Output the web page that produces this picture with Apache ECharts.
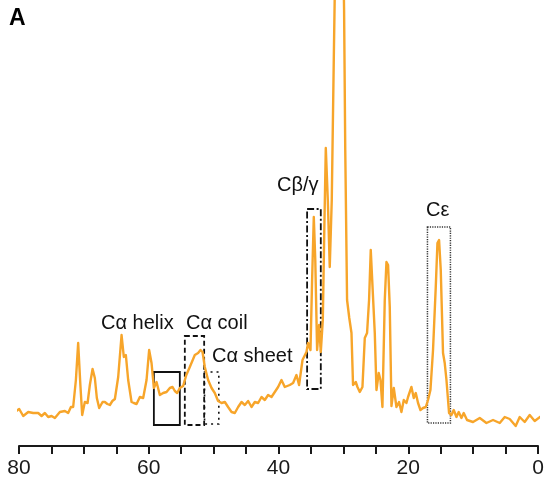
<!DOCTYPE html>
<html>
<head>
<meta charset="utf-8">
<script src="https://cdn.jsdelivr.net/npm/echarts@6/dist/echarts.min.js"></script>
<style>
html,body{margin:0;padding:0;background:#fff;}
#chart{width:548px;height:487px;}
</style>
</head>
<body>
<div id="chart"></div>
<script>
// Chemical shift (ppm) and intensity (a.u.)
const shiftPpm = [80.63,79.97,79.35,78.58,77.81,77.04,76.52,76.01,75.50,74.98,74.47,73.70,72.93,72.42,72.00,71.65,71.23,70.88,70.54,70.26,69.85,69.43,69.08,68.66,68.31,68.00,67.64,67.12,66.76,66.38,65.99,65.61,65.22,64.71,64.19,63.84,63.53,63.17,62.65,62.30,61.88,61.37,60.86,60.34,59.94,59.57,59.21,58.80,58.29,57.78,57.26,56.75,56.33,55.98,55.62,55.21,54.70,54.21,53.67,52.90,52.39,52.02,51.71,51.36,50.85,50.32,49.82,49.31,48.78,48.27,47.77,47.24,46.73,46.22,45.70,45.19,44.68,44.16,43.65,43.14,42.62,42.11,41.60,41.08,40.57,40.06,39.54,39.03,38.26,37.75,37.23,36.83,36.30,35.69,35.44,35.07,34.82,34.56,34.33,34.05,33.74,33.48,33.17,32.94,32.71,32.40,32.10,31.79,31.48,31.17,30.55,30.09,29.89,29.71,29.43,29.09,28.75,28.51,28.09,27.83,27.47,27.06,26.70,26.35,26.04,25.78,25.52,25.16,24.90,24.55,24.28,23.98,23.62,23.36,23.11,22.85,22.59,22.23,21.82,21.42,21.05,20.69,20.28,20.03,19.51,19.15,18.84,18.49,18.12,17.72,17.30,16.95,16.58,16.18,15.76,15.50,15.25,14.99,14.64,14.38,14.11,13.71,13.34,12.99,12.57,12.22,11.80,11.45,10.94,10.02,8.98,7.95,6.93,5.90,5.13,4.36,3.44,2.82,2.05,1.28,0.51,-0.52];
const intensity = [34,37,30,34,33,33,30,33,29,30,28,34,35,33,39,39,66,103,61,31,44,43,61,77,68,48,38,44,44,42,41,45,47,69,111,89,91,66,44,43,42,49,48,66,96,83,58,64,51,53,54,58,59,55,53,58,60,71,79,91,93,96,94,79,66,58,53,45,43,44,39,34,33,39,44,41,45,39,44,43,49,46,51,49,54,59,66,59,61,63,71,61,86,94,103,96,166,229,186,96,121,94,126,216,298,246,179,246,386,520,640,520,436,296,146,128,113,61,64,59,54,59,108,113,146,196,194,113,56,73,66,39,146,184,181,139,40,58,39,44,34,46,43,49,59,48,53,43,36,38,39,46,56,96,159,203,206,176,93,83,66,33,31,36,29,34,28,33,26,24,28,23,26,23,29,27,20,29,24,31,25,30];

// Tick settings of the shift axis
const axisMin = 0, axisMax = 80, tickStep = 5, labelStep = 20;

// Highlighted regions: [ppm from, ppm to, intensity low, intensity high]
const boxHelix = [59.21, 55.21, 21, 74];
const boxCoil  = [54.44, 51.46, 21, 110];
const boxSheet = [51.40, 49.20, 22, 74];
const boxCbg   = [35.59, 33.48, 57, 237];
const boxCe    = [17.04, 13.50, 23, 219];

const labelTexts = ['Cα helix', 'Cα coil', 'Cα sheet', 'Cβ/γ', 'Cε'];

const chart = echarts.init(document.getElementById('chart'), null, {renderer: 'canvas'});

function box(b, style) {
  return [
    {coord: [b[0], b[3]], itemStyle: Object.assign({color: 'rgba(0,0,0,0)', borderColor: '#111'}, style)},
    {coord: [b[1], b[2]]}
  ];
}

const FONT = 'Liberation Sans, Arial, Helvetica, sans-serif';

const option = {
  animation: false,
  backgroundColor: '#ffffff',
  grid: {left: 19, right: 10, top: 0, bottom: 41},
  xAxis: {
    type: 'value',
    inverse: true,
    min: axisMin,
    max: axisMax,
    interval: tickStep,
    splitLine: {show: false},
    axisLine: {show: true, lineStyle: {color: '#1a1a1a', width: 2}},
    axisTick: {show: true, length: 8, lineStyle: {color: '#1a1a1a', width: 2}},
    axisLabel: {
      margin: 12,
      fontSize: 21,
      color: '#1a1a1a',
      fontFamily: FONT,
      formatter: v => (v % labelStep === 0 ? String(v) : '')
    }
  },
  yAxis: {type: 'value', show: false, min: 0, max: 446},
  series: [{
    type: 'line',
    data: shiftPpm.map((p, i) => [p, intensity[i]]),
    showSymbol: false,
    clip: false,
    lineStyle: {color: '#F7A52A', width: 2.4, join: 'round'},
    markArea: {
      silent: true,
      data: [
        box(boxHelix, {borderWidth: 1.8, borderType: 'solid'}),
        box(boxCoil,  {borderWidth: 1.8, borderType: [5, 3]}),
        box(boxSheet, {borderWidth: 1.6, borderType: [2, 4]}),
        box(boxCbg,   {borderWidth: 1.8, borderType: [7, 2.5, 2, 2.5]}),
        box(boxCe,    {borderWidth: 1.5, borderType: [1.2, 1.2], borderColor: '#333'})
      ]
    }
  }],
  graphic: [
    {type: 'text', left: 9, top: 7, style: {text: 'A', font: 'bold 23px ' + FONT, fill: '#000'}},
    {type: 'text', x: 101, y: 323, style: {text: labelTexts[0], font: '20px ' + FONT, fill: '#111', verticalAlign: 'middle'}},
    {type: 'text', x: 186, y: 323, style: {text: labelTexts[1], font: '20px ' + FONT, fill: '#111', verticalAlign: 'middle'}},
    {type: 'text', x: 212, y: 356, style: {text: labelTexts[2], font: '20px ' + FONT, fill: '#111', verticalAlign: 'middle'}},
    {type: 'text', x: 277, y: 185, style: {text: labelTexts[3], font: '20px ' + FONT, fill: '#111', verticalAlign: 'middle'}},
    {type: 'text', x: 426, y: 210, style: {text: labelTexts[4], font: '20px ' + FONT, fill: '#111', verticalAlign: 'middle'}}
  ]
};
chart.setOption(option);
</script>
</body>
</html>
